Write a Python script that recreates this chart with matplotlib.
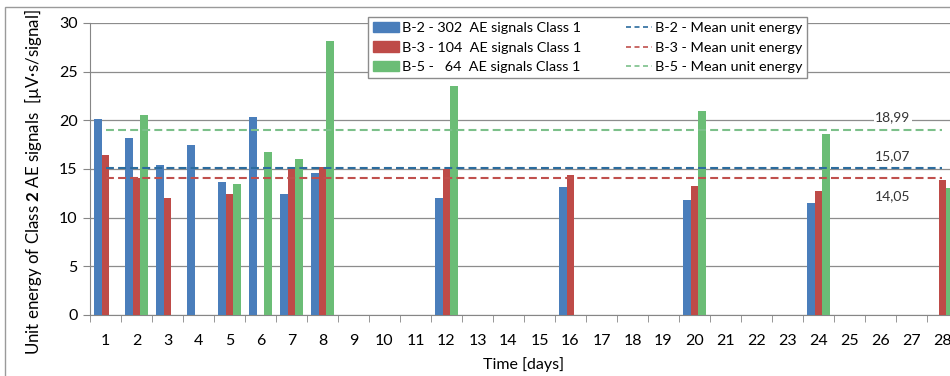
import matplotlib
matplotlib.use("Agg")
from matplotlib import pyplot as plt
from matplotlib.patches import Patch, Rectangle
from matplotlib.lines import Line2D
import numpy as np

plt.rcParams['font.family'] = ['Lato', 'DejaVu Sans']
plt.rcParams['mathtext.fontset'] = 'custom'
plt.rcParams['mathtext.rm'] = 'Lato'
plt.rcParams['mathtext.bf'] = 'Lato:bold'

days = list(range(1, 29))
# measured days only, others empty
b2_days = [1, 2, 3, 4, 5, 6, 7, 8, 12, 16, 20, 24]
b2_vals = [20.1, 18.2, 15.4, 17.5, 13.7, 20.3, 12.4, 14.6, 12.0, 13.1, 11.8, 11.5]
b3_days = [1, 2, 3, 5, 7, 8, 12, 16, 20, 24, 28]
b3_vals = [16.4, 14.1, 12.0, 12.4, 15.0, 15.2, 15.0, 14.4, 13.3, 12.7, 13.9]
b5_days = [2, 5, 6, 7, 8, 12, 20, 24, 28]
b5_vals = [20.5, 13.5, 16.7, 16.0, 28.1, 23.5, 21.0, 18.6, 13.0]
means = {'B-2': 15.07, 'B-3': 14.05, 'B-5': 18.99}
mean_labels = ['15,07', '14,05', '18,99']
legend_bars = ['B-2 - 302  AE signals Class 1',
               'B-3 - 104  AE signals Class 1',
               'B-5 -   64  AE signals Class 1']

c_blue, c_red, c_green = '#4a7ebb', '#be4b48', '#6bbd76'
m_blue, m_red, m_green = '#2b6c9e', '#c0504d', '#7cc08a'

fig = plt.figure(figsize=(9.5, 3.76), dpi=100)
ax = fig.add_axes([90/950, 61/376, 868/950, 292/376])

w = 0.24
ax.bar(np.array(b2_days) - w, b2_vals, w, color=c_blue, zorder=3)
ax.bar(np.array(b3_days), b3_vals, w, color=c_red, zorder=3)
ax.bar(np.array(b5_days) + w, b5_vals, w, color=c_green, zorder=3)

x = np.array(days)
dash = (3.8, 2.0)
ax.plot(x, [means['B-2']] * len(x), color=m_blue, lw=1.5, dashes=dash, zorder=4)
ax.plot(x, [means['B-3']] * len(x), color=m_red, lw=1.5, dashes=dash, zorder=4)
ax.plot(x, [means['B-5']] * len(x), color=m_green, lw=1.5, dashes=dash, zorder=4)

ann_x = 26.4
for val, lab, dy in [(means['B-5'], mean_labels[2], 13),
                     (means['B-2'], mean_labels[0], 12),
                     (means['B-3'], mean_labels[1], -18)]:
    ax.annotate(lab, (ann_x, val), xytext=(0, dy), textcoords='offset pixels',
                ha='center', va='center', fontsize=10, color='#333333',
                bbox=dict(facecolor='white', edgecolor='none', pad=1), zorder=5)

ax.set_xlim(0.5, 28.5)
ax.set_ylim(0, 30)
ax.set_yticks(range(0, 31, 5))
ax.set_xticks(days)
ax.set_xticks(np.arange(0.5, 28.6, 1), minor=True)
ax.tick_params(axis='x', which='major', length=0, labelsize=11.5, pad=14)
ax.tick_params(axis='x', which='minor', length=5, color='#868686', direction='out')
ax.tick_params(axis='y', length=5, color='#868686', labelsize=11.5, pad=4)
ax.grid(axis='y', color='#8c8c8c', lw=0.9, zorder=0)
for s in ['top', 'right']:
    ax.spines[s].set_visible(False)
for s in ['left', 'bottom']:
    ax.spines[s].set_color('#868686')

ax.set_xlabel('Time [days]', fontsize=11.5, labelpad=6)
ax.set_ylabel(r'Unit energy of Class $\mathbf{2}$ AE signals  [µV·s/signal]',
              fontsize=12.2)
ax.yaxis.set_label_coords(-0.053, 0.455)

handles = [Patch(color=c_blue), Patch(color=c_red), Patch(color=c_green),
           Line2D([], [], color=m_blue, lw=1.2, dashes=(3, 2.1)),
           Line2D([], [], color=m_red, lw=1.2, dashes=(3, 2.1)),
           Line2D([], [], color=m_green, lw=1.2, dashes=(3, 2.1))]
labels = legend_bars + ['B-2 - Mean unit energy', 'B-3 - Mean unit energy',
                        'B-5 - Mean unit energy']
leg = ax.legend(handles, labels, ncol=2, loc='center', bbox_to_anchor=(0.573, 0.916),
                fontsize=10.4, frameon=True, fancybox=False, framealpha=1,
                edgecolor='#8c8c8c', handlelength=1.8, handletextpad=0.2,
                labelspacing=0.5, columnspacing=3.1, borderpad=0.35, handleheight=0.7)
leg.get_frame().set_linewidth(1.0)
leg.set_zorder(6)

fig.patches.append(Rectangle((5/950, -0.1), 1.2, 1.1 - 7/376, transform=fig.transFigure,
                             fill=False, edgecolor='#9a9a9a', lw=1.0))

fig.savefig('out.png', dpi=100, facecolor='white')
